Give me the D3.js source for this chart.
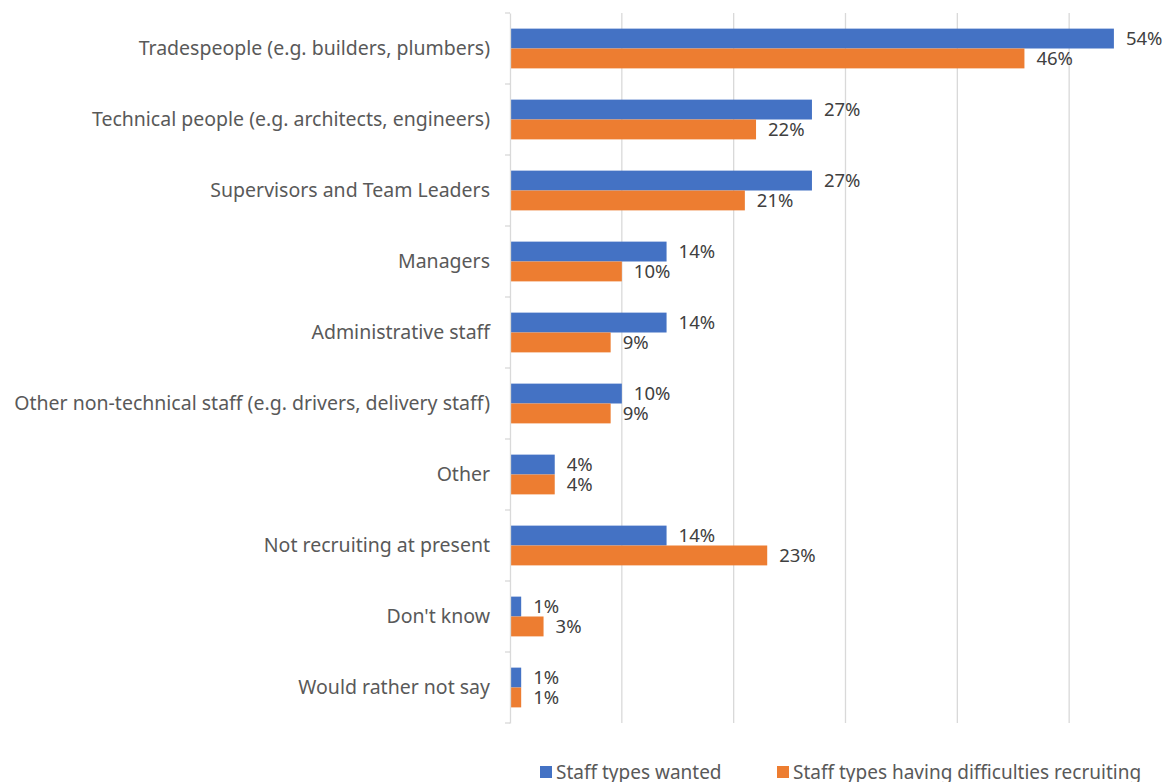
<!DOCTYPE html>
<html>
<head>
<meta charset="utf-8">
<script src="https://cdn.jsdelivr.net/npm/d3@7"></script>
<style>
  body { margin: 0; background: #fff; }
  svg text { font-family: "Noto Sans", "Open Sans", sans-serif; }
</style>
</head>
<body>
<div id="chart"></div>
<script>
var categories = [
  "Tradespeople (e.g. builders, plumbers)",
  "Technical people (e.g. architects, engineers)",
  "Supervisors and Team Leaders",
  "Managers",
  "Administrative staff",
  "Other non-technical staff (e.g. drivers, delivery staff)",
  "Other",
  "Not recruiting at present",
  "Don't know",
  "Would rather not say"
];
var seriesNames = ["Staff types wanted", "Staff types having difficulties recruiting"];
var wanted = [54, 27, 27, 14, 14, 10, 4, 14, 1, 1];
var difficult = [46, 22, 21, 10, 9, 9, 4, 23, 3, 1];
var gridTicks = [10, 20, 30, 40, 50, 60];
var colors = ["#4472C4", "#ED7D31"];

var width = 1176, height = 782;
var margin = {top: 13, left: 510, bottom: 59};

var svg = d3.select("#chart").append("svg")
    .attr("width", width)
    .attr("height", height);

var x = d3.scaleLinear()
    .domain([0, 60])
    .range([margin.left, margin.left + 671]);

var y = d3.scaleBand()
    .domain(categories)
    .range([margin.top, height - margin.bottom])
    .paddingInner(0.44)
    .paddingOuter(0.22);

var y1 = d3.scaleBand()
    .domain([0, 1])
    .range([0, y.bandwidth()]);

// gridlines
svg.append("g")
    .selectAll("line")
    .data(gridTicks)
    .join("line")
    .attr("x1", function(d) { return x(d); })
    .attr("x2", function(d) { return x(d); })
    .attr("y1", margin.top)
    .attr("y2", height - margin.bottom)
    .attr("stroke", "#d9d9d9")
    .attr("stroke-width", 1.3);

// bars
var rows = svg.append("g")
    .selectAll("g")
    .data(categories)
    .join("g")
    .attr("transform", function(d) { return "translate(0," + y(d) + ")"; });

rows.each(function(cat, i) {
  var g = d3.select(this);
  var vals = [wanted[i], difficult[i]];
  g.selectAll("rect")
    .data(vals)
    .join("rect")
    .attr("x", x(0))
    .attr("y", function(d, j) { return y1(j); })
    .attr("width", function(d) { return x(d) - x(0); })
    .attr("height", y1.bandwidth())
    .attr("fill", function(d, j) { return colors[j]; });
  g.selectAll("text")
    .data(vals)
    .join("text")
    .attr("x", function(d) { return x(d) + 12; })
    .attr("y", function(d, j) { return y1(j) + y1.bandwidth() / 2; })
    .attr("dy", "0.35em")
    .attr("font-size", 18.5)
    .attr("fill", "#404040")
    .text(function(d) { return d + "%"; });
});

// y axis
var yAxis = svg.append("g")
    .attr("transform", "translate(" + x(0) + ",0)")
    .call(d3.axisLeft(y).tickSize(0).tickPadding(20));
yAxis.select(".domain").attr("stroke", "#d9d9d9").attr("stroke-width", 1.3);
yAxis.selectAll("text")
    .attr("font-size", 19.5)
    .attr("fill", "#595959");

// category separators on the axis
var step = y.step();
var bounds = d3.range(categories.length + 1).map(function(i) { return margin.top + i * step; });
svg.append("g")
    .selectAll("line")
    .data(bounds)
    .join("line")
    .attr("x1", x(0) - 5)
    .attr("x2", x(0))
    .attr("y1", function(d) { return d; })
    .attr("y2", function(d) { return d; })
    .attr("stroke", "#d9d9d9")
    .attr("stroke-width", 1.3);

// legend
var legendX = [540, 777];
var legend = svg.append("g")
    .selectAll("g")
    .data(seriesNames)
    .join("g")
    .attr("transform", function(d, i) { return "translate(" + legendX[i] + ",772)"; });
legend.append("rect")
    .attr("x", 0).attr("y", -6)
    .attr("width", 12).attr("height", 12)
    .attr("fill", function(d, i) { return colors[i]; });
legend.append("text")
    .attr("x", 16)
    .attr("dy", "0.35em")
    .attr("font-size", 19)
    .attr("fill", "#595959")
    .text(function(d) { return d; });
</script>
</body>
</html>
